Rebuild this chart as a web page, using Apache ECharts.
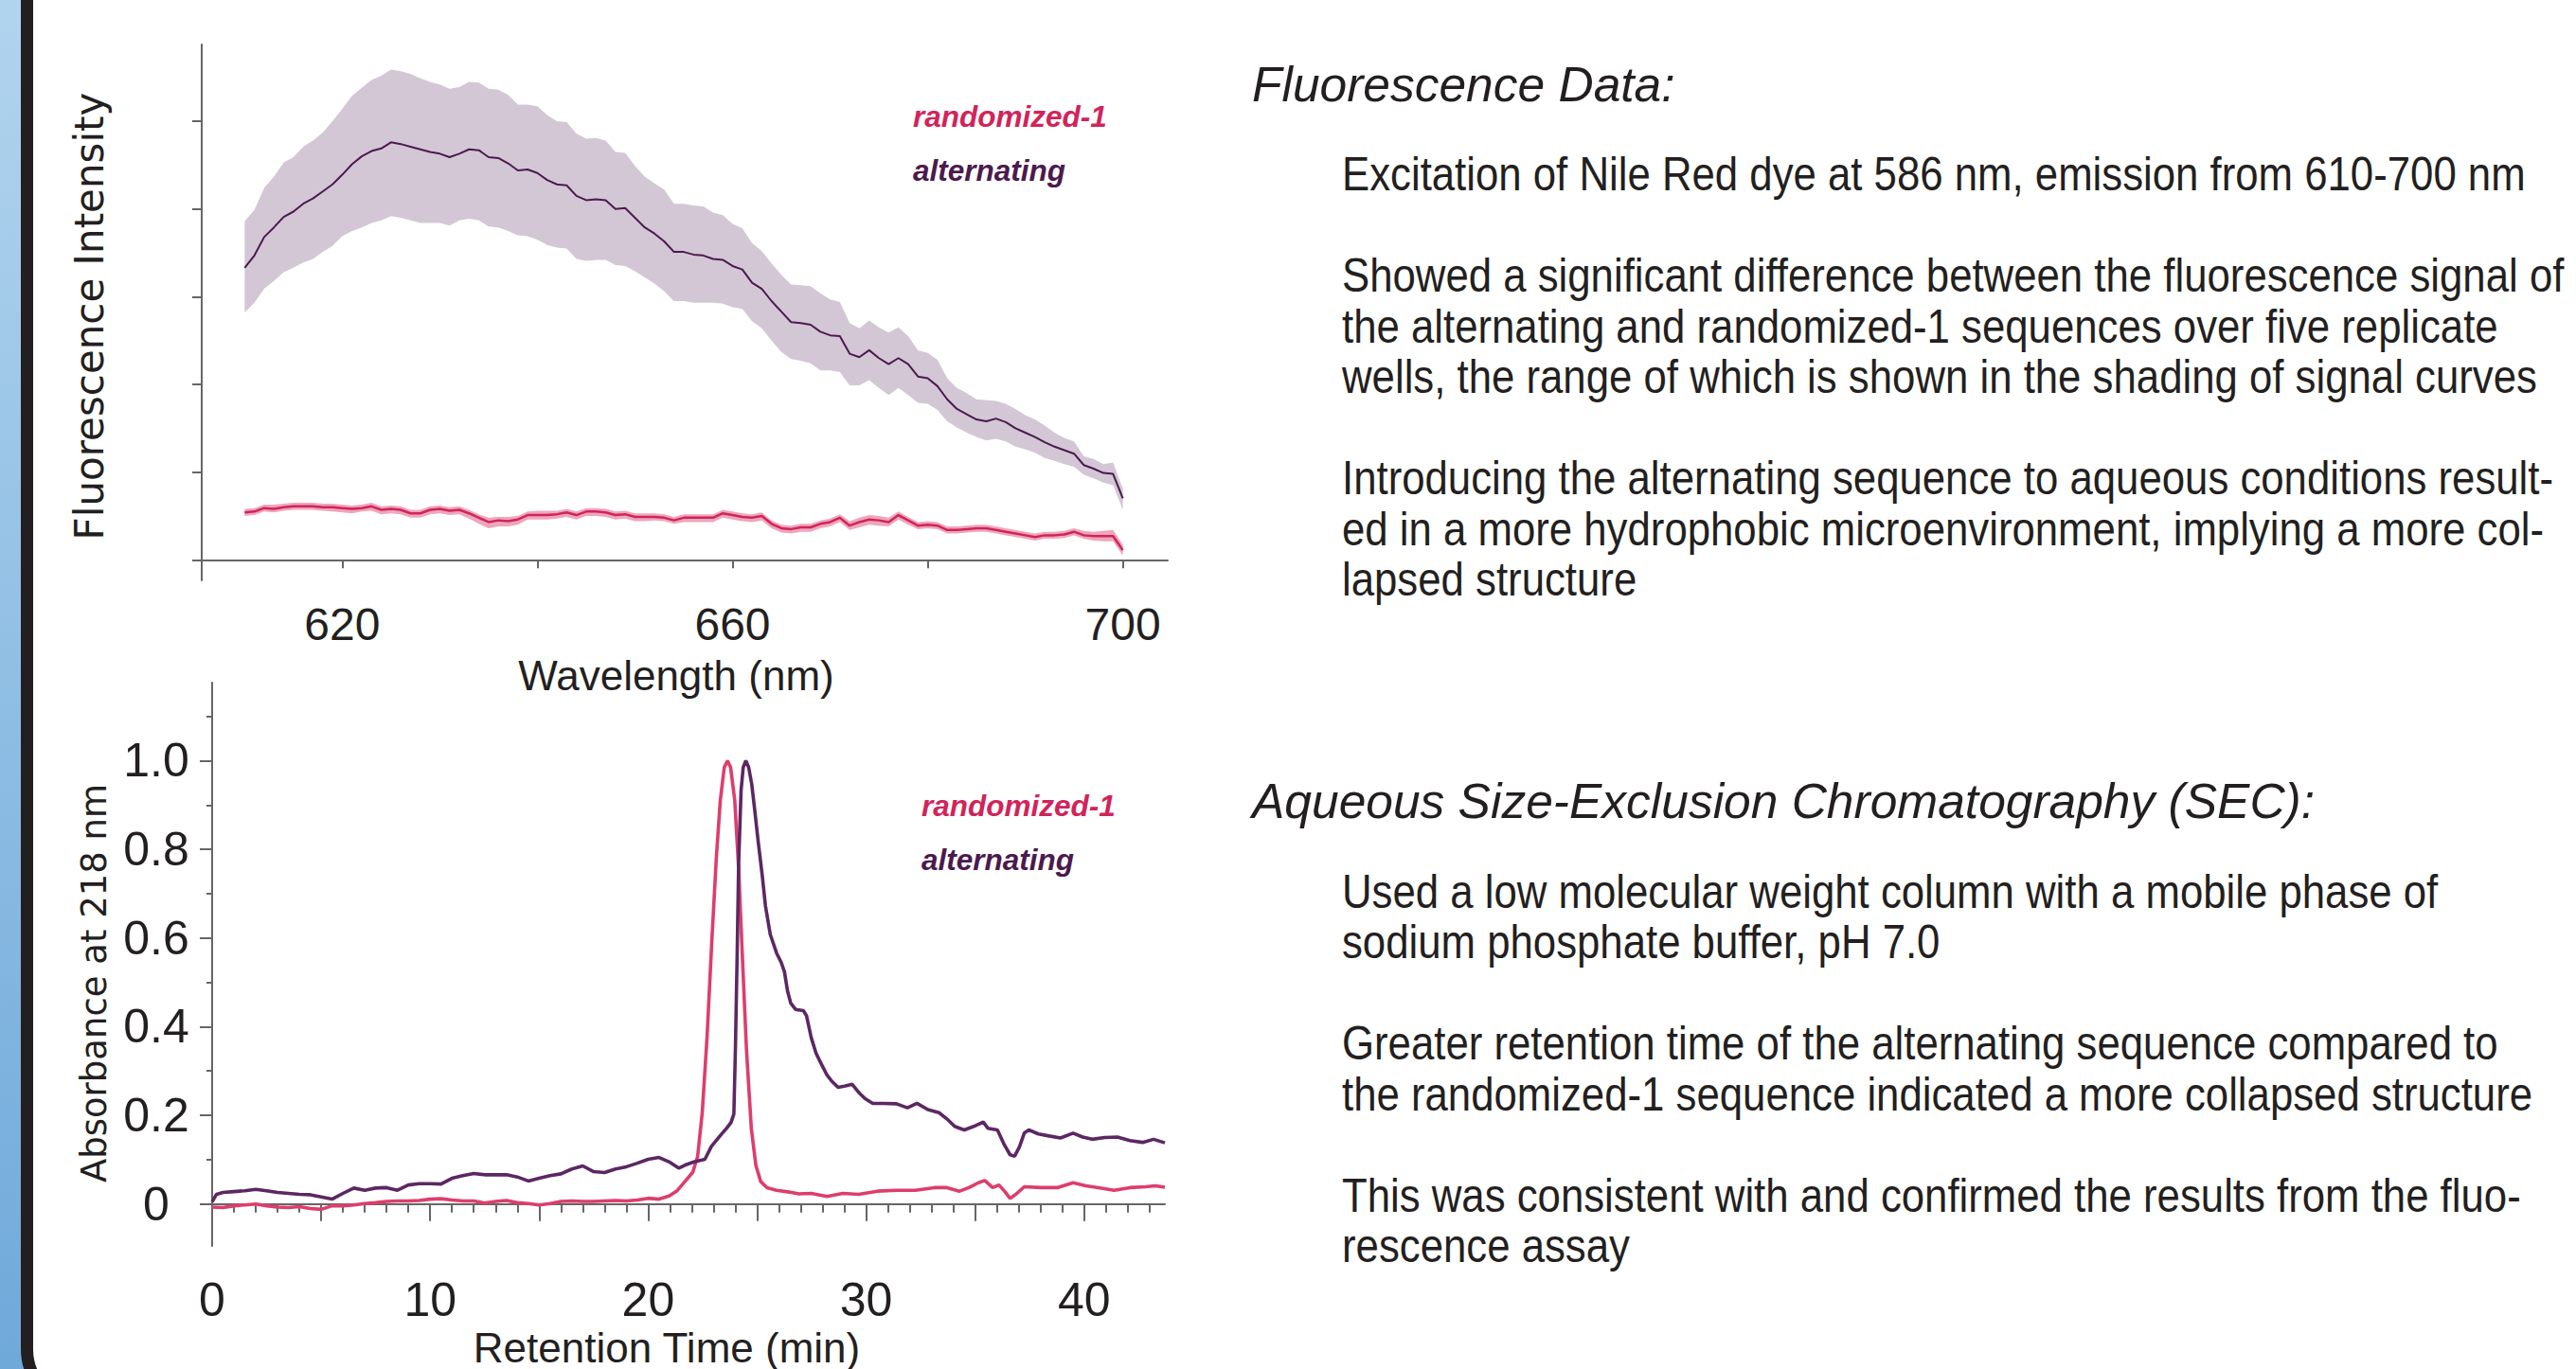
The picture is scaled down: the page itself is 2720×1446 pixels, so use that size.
<!DOCTYPE html>
<html>
<head>
<meta charset="utf-8">
<title>Nile Red fluorescence and aqueous SEC</title>
<script src="https://cdn.jsdelivr.net/npm/echarts@6/dist/echarts.min.js"></script>
<style>
  html, body { margin: 0; padding: 0; background: #fff; }
  #chart { width: 2720px; height: 1446px; }
</style>
</head>
<body>
<div id="chart"></div>
<script>
// fluorescence emission, 1 nm steps from 610 to 700 nm (arbitrary intensity units)
const wavelengthStart = 610
const altMean = [
  3.33, 3.47, 3.68, 3.79, 3.91, 3.97, 4.06, 4.12, 4.20, 4.28,
  4.39, 4.51, 4.60, 4.66, 4.69, 4.76, 4.74, 4.71, 4.68, 4.65,
  4.63, 4.59, 4.63, 4.68, 4.67, 4.59, 4.58, 4.52, 4.44, 4.45,
  4.41, 4.33, 4.28, 4.27, 4.15, 4.10, 4.11, 4.10, 4.00, 4.01,
  3.90, 3.79, 3.72, 3.63, 3.51, 3.51, 3.48, 3.47, 3.43, 3.42,
  3.35, 3.31, 3.16, 3.09, 2.95, 2.83, 2.71, 2.70, 2.68, 2.60,
  2.56, 2.55, 2.35, 2.31, 2.39, 2.30, 2.23, 2.30, 2.23, 2.09,
  2.07, 1.98, 1.83, 1.72, 1.66, 1.60, 1.58, 1.61, 1.57, 1.50,
  1.45, 1.40, 1.34, 1.29, 1.25, 1.21, 1.08, 1.04, 0.99, 0.98,
  0.70
]
const altHigh = [
  3.86, 3.99, 4.24, 4.37, 4.53, 4.59, 4.71, 4.78, 4.87, 5.00,
  5.14, 5.29, 5.38, 5.47, 5.52, 5.59, 5.57, 5.54, 5.49, 5.45,
  5.42, 5.37, 5.39, 5.45, 5.44, 5.37, 5.36, 5.30, 5.19, 5.19,
  5.17, 5.07, 5.00, 4.99, 4.86, 4.80, 4.81, 4.78, 4.65, 4.64,
  4.49, 4.37, 4.29, 4.22, 4.06, 4.06, 4.04, 4.03, 3.96, 3.93,
  3.83, 3.78, 3.61, 3.52, 3.38, 3.25, 3.14, 3.13, 3.12, 3.04,
  2.97, 2.94, 2.70, 2.64, 2.73, 2.65, 2.59, 2.65, 2.55, 2.39,
  2.36, 2.28, 2.07, 1.96, 1.90, 1.83, 1.82, 1.81, 1.78, 1.72,
  1.65, 1.60, 1.53, 1.45, 1.39, 1.35, 1.18, 1.15, 1.09, 1.11,
  0.81
]
const altLow = [
  2.82, 2.93, 3.09, 3.18, 3.28, 3.33, 3.39, 3.43, 3.51, 3.58,
  3.69, 3.75, 3.79, 3.84, 3.87, 3.92, 3.90, 3.87, 3.84, 3.84,
  3.84, 3.81, 3.87, 3.89, 3.87, 3.80, 3.79, 3.75, 3.70, 3.69,
  3.65, 3.59, 3.56, 3.55, 3.43, 3.41, 3.42, 3.42, 3.36, 3.35,
  3.29, 3.22, 3.15, 3.06, 2.95, 2.95, 2.93, 2.93, 2.93, 2.92,
  2.88, 2.86, 2.72, 2.64, 2.50, 2.37, 2.29, 2.27, 2.24, 2.16,
  2.16, 2.14, 1.99, 1.99, 2.05, 1.96, 1.88, 1.96, 1.88, 1.79,
  1.78, 1.71, 1.58, 1.51, 1.45, 1.40, 1.36, 1.38, 1.35, 1.29,
  1.26, 1.22, 1.16, 1.13, 1.09, 1.06, 0.97, 0.93, 0.88, 0.85,
  0.57
]
const randMean = [
  0.54, 0.55, 0.59, 0.58, 0.60, 0.61, 0.61, 0.61, 0.60, 0.60,
  0.59, 0.58, 0.59, 0.61, 0.57, 0.58, 0.57, 0.53, 0.53, 0.57,
  0.58, 0.56, 0.57, 0.53, 0.48, 0.43, 0.45, 0.44, 0.46, 0.51,
  0.51, 0.51, 0.52, 0.54, 0.51, 0.55, 0.55, 0.54, 0.51, 0.52,
  0.49, 0.49, 0.49, 0.48, 0.45, 0.48, 0.48, 0.48, 0.48, 0.53,
  0.51, 0.49, 0.48, 0.50, 0.41, 0.36, 0.35, 0.37, 0.37, 0.41,
  0.43, 0.48, 0.39, 0.43, 0.46, 0.45, 0.43, 0.51, 0.45, 0.39,
  0.40, 0.39, 0.34, 0.34, 0.35, 0.36, 0.36, 0.34, 0.32, 0.30,
  0.28, 0.26, 0.28, 0.28, 0.29, 0.32, 0.28, 0.27, 0.27, 0.27,
  0.11
]
const randHigh = [
  0.58, 0.59, 0.63, 0.63, 0.64, 0.65, 0.65, 0.65, 0.64, 0.64,
  0.63, 0.62, 0.63, 0.65, 0.61, 0.62, 0.61, 0.57, 0.57, 0.61,
  0.62, 0.60, 0.61, 0.57, 0.52, 0.48, 0.49, 0.49, 0.50, 0.55,
  0.56, 0.56, 0.56, 0.58, 0.55, 0.59, 0.59, 0.58, 0.55, 0.56,
  0.53, 0.53, 0.53, 0.52, 0.49, 0.52, 0.52, 0.52, 0.52, 0.57,
  0.55, 0.53, 0.52, 0.54, 0.45, 0.40, 0.39, 0.41, 0.41, 0.45,
  0.47, 0.52, 0.44, 0.48, 0.51, 0.50, 0.48, 0.55, 0.49, 0.43,
  0.44, 0.43, 0.38, 0.38, 0.39, 0.40, 0.40, 0.38, 0.36, 0.34,
  0.32, 0.30, 0.32, 0.32, 0.33, 0.36, 0.33, 0.32, 0.33, 0.34,
  0.17
]
const randLow = [
  0.50, 0.51, 0.55, 0.54, 0.56, 0.57, 0.57, 0.57, 0.56, 0.55,
  0.54, 0.53, 0.55, 0.56, 0.52, 0.53, 0.52, 0.48, 0.48, 0.52,
  0.53, 0.51, 0.52, 0.47, 0.41, 0.36, 0.38, 0.38, 0.40, 0.46,
  0.46, 0.46, 0.47, 0.49, 0.46, 0.50, 0.50, 0.49, 0.46, 0.47,
  0.44, 0.44, 0.45, 0.44, 0.41, 0.43, 0.43, 0.43, 0.43, 0.48,
  0.46, 0.44, 0.43, 0.45, 0.36, 0.31, 0.30, 0.32, 0.32, 0.36,
  0.38, 0.43, 0.34, 0.37, 0.40, 0.39, 0.38, 0.46, 0.40, 0.35,
  0.36, 0.35, 0.30, 0.30, 0.31, 0.32, 0.32, 0.30, 0.28, 0.26,
  0.24, 0.22, 0.24, 0.24, 0.25, 0.28, 0.24, 0.22, 0.21, 0.21,
  0.05
]

// SEC traces: [retention time (min), absorbance at 218 nm]
const secRandomized = [
  [0, -0.007], [0.5, -0.008], [1, -0.004], [1.5, -0.002], [2, 0.0], [2.5, -0.004], [3, -0.007],
  [3.5, -0.008], [4, -0.006], [4.5, -0.01], [5, -0.012], [5.5, -0.004], [6, -0.004], [6.5, -0.002],
  [7, 0.001], [7.5, 0.003], [8, 0.006], [8.5, 0.007], [9, 0.007], [9.5, 0.008], [10, 0.011],
  [10.5, 0.012], [11, 0.009], [11.5, 0.007], [12, 0.007], [12.5, 0.002], [13, 0.006], [13.5, 0.008],
  [14, 0.003], [14.5, 0.001], [15, -0.002], [15.5, 0.001], [16, 0.006], [16.5, 0.007], [17, 0.006],
  [17.5, 0.006], [18, 0.007], [18.5, 0.008], [19, 0.007], [19.5, 0.009], [20, 0.013], [20.5, 0.011],
  [20.96, 0.018], [21.33, 0.030], [21.69, 0.051], [22.05, 0.072], [22.27, 0.108], [22.48, 0.206],
  [22.7, 0.376], [22.92, 0.594], [23.13, 0.784], [23.31, 0.911], [23.49, 0.985], [23.64, 1.0],
  [23.78, 0.985], [23.97, 0.911], [24.15, 0.756], [24.32, 0.559], [24.51, 0.347], [24.73, 0.171],
  [24.94, 0.087], [25.16, 0.051], [25.45, 0.037], [25.89, 0.031], [26.47, 0.027], [26.9, 0.023],
  [27.48, 0.024], [28.2, 0.017], [28.93, 0.024], [29.65, 0.022], [30.52, 0.029], [31.39, 0.031],
  [32.26, 0.031], [33.13, 0.037], [33.7, 0.037], [34.28, 0.029], [34.71, 0.037], [35.15, 0.048],
  [35.44, 0.053], [35.8, 0.037], [36.09, 0.043], [36.38, 0.027], [36.6, 0.0125], [36.89, 0.023],
  [37.25, 0.039], [38.04, 0.037], [38.77, 0.037], [39.49, 0.048], [40.07, 0.041], [40.65, 0.037],
  [41.37, 0.031], [42.1, 0.037], [42.82, 0.039], [43.26, 0.041], [43.7, 0.038]
]
const secAlternating = [
  [0, 0.005], [0.2, 0.022], [0.5, 0.026], [1, 0.028], [1.5, 0.030], [2, 0.033], [2.5, 0.030],
  [3, 0.026], [3.5, 0.024], [4, 0.022], [4.5, 0.021], [5, 0.016], [5.5, 0.011], [6, 0.024],
  [6.5, 0.036], [7, 0.031], [7.5, 0.036], [8, 0.037], [8.5, 0.031], [9, 0.043], [9.5, 0.046],
  [10, 0.046], [10.5, 0.045], [11, 0.058], [11.5, 0.064], [12, 0.069], [12.5, 0.066], [13, 0.066],
  [13.5, 0.066], [14, 0.061], [14.5, 0.052], [15, 0.058], [15.5, 0.064], [16, 0.068], [16.5, 0.079],
  [17, 0.086], [17.5, 0.073], [18, 0.071], [18.5, 0.079], [19, 0.084], [19.5, 0.092], [20, 0.101],
  [20.5, 0.105], [21, 0.094], [21.4, 0.081], [21.7, 0.088], [22.1, 0.095], [22.6, 0.101],
  [22.9, 0.130], [23.3, 0.154], [23.6, 0.171], [23.8, 0.184], [23.93, 0.203], [24.0, 0.347],
  [24.08, 0.559], [24.15, 0.770], [24.26, 0.932], [24.36, 0.985], [24.48, 1.0], [24.61, 0.985],
  [24.75, 0.947], [24.9, 0.883], [25.04, 0.820], [25.23, 0.742], [25.38, 0.672], [25.6, 0.608],
  [25.89, 0.566], [26.1, 0.545], [26.25, 0.524], [26.39, 0.481], [26.54, 0.453], [26.76, 0.439],
  [27.12, 0.436], [27.26, 0.425], [27.48, 0.375], [27.7, 0.340], [27.91, 0.319], [28.2, 0.291],
  [28.42, 0.277], [28.71, 0.263], [29.0, 0.266], [29.36, 0.270], [29.65, 0.252], [29.94, 0.238],
  [30.3, 0.227], [30.81, 0.227], [31.39, 0.226], [31.89, 0.217], [32.33, 0.227], [32.83, 0.213],
  [33.34, 0.206], [33.7, 0.192], [34.06, 0.175], [34.5, 0.167], [34.93, 0.175], [35.37, 0.185],
  [35.58, 0.171], [36.02, 0.167], [36.31, 0.136], [36.6, 0.111], [36.81, 0.108], [37.03, 0.129],
  [37.25, 0.160], [37.46, 0.167], [37.9, 0.158], [38.33, 0.154], [38.91, 0.149], [39.49, 0.160],
  [39.93, 0.151], [40.36, 0.146], [40.94, 0.150], [41.52, 0.151], [42.1, 0.143], [42.68, 0.139],
  [43.18, 0.146], [43.7, 0.138]
]

// ticks and labels
const wavelengthTicks = [620, 640, 660, 680, 700]
const wavelengthLabels = [620, 660, 700]
const intensityTicks = [0, 1, 2, 3, 4, 5]
const timeMajorTicks = [0, 5, 10, 15, 20, 25, 30, 35, 40]
const timeLabels = [0, 10, 20, 30, 40]
const timeMinorTicks = [1, 2, 3, 4, 6, 7, 8, 9, 11, 12, 13, 14, 16, 17, 18, 19, 21, 22, 23, 24,
  26, 27, 28, 29, 31, 32, 33, 34, 36, 37, 38, 39, 41, 42, 43]
const absMajorTicks = [0, 0.2, 0.4, 0.6, 0.8, 1.0]
const absMinorTicks = [0.1, 0.3, 0.5, 0.7, 0.9, 1.1]

// side notes
const fluorescenceHeading = 'Fluorescence Data:'
const fluorescenceNotes = [
  ['Excitation of Nile Red dye at 586 nm, emission from 610-700 nm'],
  ['Showed a significant difference between the fluorescence signal of',
    'the alternating and randomized-1 sequences over five replicate',
    'wells, the range of which is shown in the shading of signal curves'],
  ['Introducing the alternating sequence to aqueous conditions result-',
    'ed in a more hydrophobic microenvironment, implying a more col-',
    'lapsed structure']
]
const secHeading = 'Aqueous Size-Exclusion Chromatography (SEC):'
const secNotes = [
  ['Used a low molecular weight column with a mobile phase of',
    'sodium phosphate buffer, pH 7.0'],
  ['Greater retention time of the alternating sequence compared to',
    'the randomized-1 sequence indicated a more collapsed structure'],
  ['This was consistent with and confirmed the results from the fluo-',
    'rescence assay']
]

const INK = '#231f20'
const AXIS = '#666'
const SANS = 'Liberation Sans'
const DIGITS = "'Liberation Sans Narrow', 'Liberation Sans', sans-serif"
const ROUND = 'DejaVu Sans'

const C = {
  altLine: '#4b1a4e', altBand: '#d3c7d5',
  randLine: '#d1245a', randBand: '#eea6bc',
  secRand: '#dd3e6c', secAlt: '#5c2763'
}

const toPairs = arr => arr.map((v, i) => [wavelengthStart + i, v])
const bandRows = (low, high) => low.map((v, i) => [wavelengthStart + i, v, high[i]])

function bandSeries(name, rows, color) {
  return {
    name, type: 'custom', xAxisIndex: 0, yAxisIndex: 0, silent: true,
    data: rows,
    encode: { x: 0, y: [1, 2] },
    renderItem: function (params, api) {
      if (params.dataIndex !== 0) return null
      const upper = rows.map(r => api.coord([r[0], r[2]]))
      const lower = rows.map(r => api.coord([r[0], r[1]])).reverse()
      return { type: 'polygon', shape: { points: upper.concat(lower) }, style: { fill: color } }
    }
  }
}

function lineSeries(name, data, color, width, xi, yi) {
  return {
    name, type: 'line', data, xAxisIndex: xi, yAxisIndex: yi,
    symbol: 'none', smooth: false, silent: true,
    lineStyle: { color, width }, itemStyle: { color }
  }
}

// right-hand notes as text graphics
const LINE_STEP = 53.5
function noteBlock(heading, paragraphs, headingBaseline) {
  const els = [{
    type: 'text', x: 1322, y: headingBaseline - 18,
    style: { text: heading, fontFamily: SANS, fontStyle: 'italic', fontSize: 51.5, fill: INK, verticalAlign: 'middle' }
  }]
  let baseline = headingBaseline + 95
  paragraphs.forEach((lines, p) => {
    if (p > 0) baseline += LINE_STEP
    lines.forEach((line, i) => {
      if (i > 0) baseline += LINE_STEP
      els.push({
        type: 'text', x: 1417, y: baseline - 18, scaleX: 0.875,
        style: { text: line, fontFamily: SANS, fontSize: 50, fill: INK, verticalAlign: 'middle' }
      })
    })
    baseline += LINE_STEP
  })
  return els
}

const legendBase = {
  orient: 'vertical', icon: 'none', itemWidth: 0, itemHeight: 0, itemGap: 25, padding: 0,
  selectedMode: false,
  textStyle: { fontFamily: SANS, fontStyle: 'italic', fontWeight: 'bold', fontSize: 31.5, lineHeight: 31 }
}

const chart = echarts.init(document.getElementById('chart'), null, { renderer: 'svg' })
chart.setOption({
  animation: false,
  backgroundColor: '#fff',
  grid: [
    { left: 213, top: 47, width: 1020, height: 566 },
    { left: 224, top: 721, width: 1006, height: 601 }
  ],
  legend: [
    Object.assign({}, legendBase, {
      left: 959, top: 107,
      data: [{ name: 'randomized-1', textStyle: { color: C.randLine } }, { name: 'alternating', textStyle: { color: C.altLine } }]
    }),
    Object.assign({}, legendBase, {
      left: 968, top: 835,
      data: [{ name: 'randomized-1', textStyle: { color: C.randLine } }, { name: 'alternating', textStyle: { color: C.altLine } }]
    })
  ],
  xAxis: [
    {
      type: 'value', gridIndex: 0, position: 'bottom', min: 605.6, max: 704.6,
      name: 'Wavelength (nm)', nameLocation: 'middle', nameGap: 78,
      nameTextStyle: { fontFamily: SANS, fontSize: 44, color: INK, padding: [0, 18, 0, 0] },
      axisLine: { lineStyle: { color: AXIS, width: 2 } },
      axisTick: { customValues: wavelengthTicks, length: 9, lineStyle: { color: AXIS, width: 2 } },
      axisLabel: { customValues: wavelengthLabels, fontFamily: DIGITS, fontSize: 48, color: INK, margin: 22 },
      splitLine: { show: false }
    },
    {
      type: 'value', gridIndex: 1, position: 'bottom', min: 0, max: 43.7,
      name: 'Retention Time (min)', nameLocation: 'middle', nameGap: 85,
      nameTextStyle: { fontFamily: SANS, fontSize: 44, color: INK, padding: [0, 46, 0, 0] },
      axisLine: { lineStyle: { color: AXIS, width: 2 } },
      axisTick: { customValues: timeMajorTicks, length: 18, lineStyle: { color: AXIS, width: 2 } },
      axisLabel: { customValues: timeLabels, fontFamily: DIGITS, fontSize: 50, color: INK, margin: 32 },
      splitLine: { show: false }
    },
    {
      type: 'value', gridIndex: 1, position: 'bottom', min: 0, max: 43.7,
      axisLine: { show: false },
      axisTick: { customValues: timeMinorTicks, length: 9, lineStyle: { color: AXIS, width: 2 } },
      axisLabel: { show: false },
      splitLine: { show: false }
    }
  ],
  yAxis: [
    {
      type: 'value', gridIndex: 0, position: 'left', min: -0.234, max: 5.875,
      name: 'Fluorescence Intensity', nameLocation: 'middle', nameGap: 98,
      nameTextStyle: { fontFamily: ROUND, fontSize: 42, color: INK, padding: [0, 8, 0, 0] },
      axisLine: { show: true, lineStyle: { color: AXIS, width: 2 } },
      axisTick: { show: true, customValues: intensityTicks, length: 10, lineStyle: { color: AXIS, width: 2 } },
      axisLabel: { show: false },
      splitLine: { show: false }
    },
    {
      type: 'value', gridIndex: 1, position: 'left', min: -0.0945, max: 1.176,
      name: 'Absorbance at 218 nm', nameLocation: 'middle', nameGap: 106,
      nameTextStyle: { fontFamily: ROUND, fontSize: 37, color: INK, padding: [0, 40, 0, 0] },
      axisLine: { show: true, lineStyle: { color: AXIS, width: 2 } },
      axisTick: { show: true, customValues: absMajorTicks, length: 13, lineStyle: { color: AXIS, width: 2 } },
      axisLabel: {
        customValues: absMajorTicks, fontFamily: DIGITS, fontSize: 50, color: INK,
        align: 'center', margin: 59, padding: [0, 0, 9, 0],
        formatter: v => (v === 0 ? '0' : v.toFixed(1))
      },
      splitLine: { show: false }
    },
    {
      type: 'value', gridIndex: 1, position: 'left', min: -0.0945, max: 1.176,
      axisLine: { show: false },
      axisTick: { show: true, customValues: absMinorTicks, length: 6, lineStyle: { color: AXIS, width: 2 } },
      axisLabel: { show: false },
      splitLine: { show: false }
    }
  ],
  series: [
    bandSeries('alternating range', bandRows(altLow, altHigh), C.altBand),
    bandSeries('randomized-1 range', bandRows(randLow, randHigh), C.randBand),
    lineSeries('alternating', toPairs(altMean), C.altLine, 2, 0, 0),
    lineSeries('randomized-1', toPairs(randMean), C.randLine, 2.5, 0, 0),
    lineSeries('randomized-1', secRandomized, C.secRand, 3.6, 1, 1),
    lineSeries('alternating', secAlternating, C.secAlt, 3.6, 1, 1)
  ],
  graphic: [
    {
      type: 'rect', z: -10, shape: { x: 0, y: 0, width: 30, height: 1446 },
      style: {
        fill: new echarts.graphic.LinearGradient(0, 0, 0, 1, [
          { offset: 0, color: '#b1d4ee' }, { offset: 1, color: '#6fa9da' }
        ])
      }
    },
    {
      type: 'rect', z: -9, shape: { x: 28.5, y: -200, width: 3000, height: 1685, r: 60 },
      style: { fill: null, stroke: INK, lineWidth: 13 }
    }
  ].concat(noteBlock(fluorescenceHeading, fluorescenceNotes, 106.7), noteBlock(secHeading, secNotes, 864))
})
</script>
</body>
</html>
